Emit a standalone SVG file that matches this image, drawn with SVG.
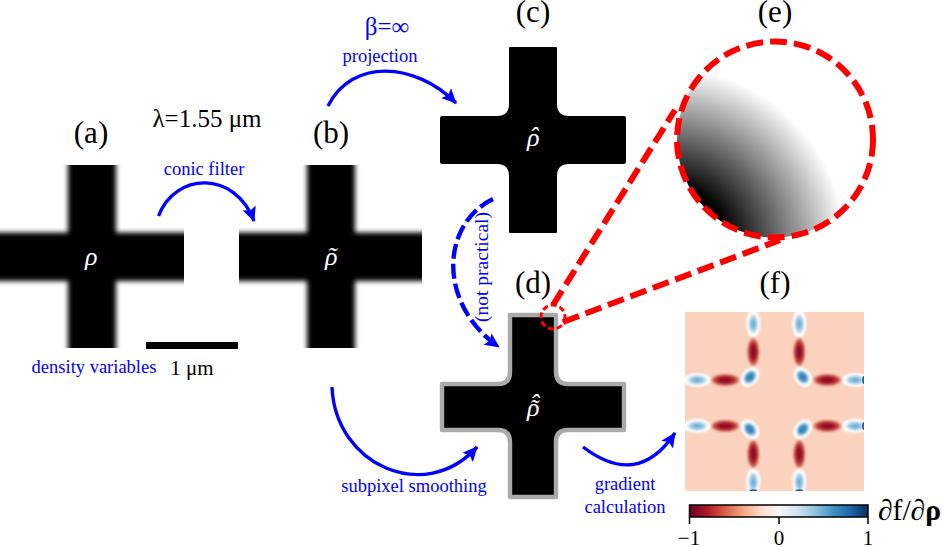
<svg xmlns="http://www.w3.org/2000/svg" xmlns:xlink="http://www.w3.org/1999/xlink" width="942" height="547" viewBox="0 0 942 547">
<style>
text{font-family:"Liberation Serif","DejaVu Serif",serif}
.lab{font-size:31px;fill:#000;text-anchor:middle}
.blu{font-size:18.5px;fill:#0000ff;text-anchor:middle}
.rho{font-size:26px;fill:#fff;font-style:italic}
.tick{font-size:21px;fill:#000;text-anchor:middle}
.arr{fill:none;stroke:#0000ff;stroke-width:3.4;marker-end:url(#ah)}
.dash{stroke-width:4.4;stroke-dasharray:15 5}
.red{fill:none;stroke:#ff0000;stroke-width:6;stroke-dasharray:17 7}
</style>
<defs>
<marker id="ah" markerUnits="userSpaceOnUse" markerWidth="20" markerHeight="16" refX="14" refY="7" orient="auto"><path d="M0,0L15,7L0,14L3,7Z" fill="#0000ff"/></marker>
<filter id="bl" x="-10%" y="-10%" width="120%" height="120%"><feGaussianBlur stdDeviation="2.5"/></filter>
<filter id="bs" x="-60%" y="-60%" width="220%" height="220%"><feGaussianBlur stdDeviation="1.2"/></filter>
<filter id="bt" x="-60%" y="-60%" width="220%" height="220%"><feGaussianBlur stdDeviation="1"/></filter>
<clipPath id="ca"><rect x="0" y="165" width="184" height="183"/></clipPath>
<clipPath id="cb"><rect x="239" y="165" width="183" height="183"/></clipPath>
<clipPath id="ce"><circle cx="775" cy="139.5" r="98"/></clipPath>
<clipPath id="cf"><rect x="685" y="312" width="179" height="179"/></clipPath>
<radialGradient id="ge" gradientUnits="userSpaceOnUse" cx="665" cy="249" r="182"><stop offset="0.35" stop-color="#000"/><stop offset="1" stop-color="#fff"/></radialGradient>
<linearGradient id="cbar"><stop offset="0" stop-color="#67001f"/><stop offset=".1" stop-color="#b2182b"/><stop offset=".2" stop-color="#d6604d"/><stop offset=".3" stop-color="#f4a582"/><stop offset=".4" stop-color="#fddbc7"/><stop offset=".5" stop-color="#f7f7f7"/><stop offset=".6" stop-color="#d1e5f0"/><stop offset=".7" stop-color="#92c5de"/><stop offset=".8" stop-color="#4393c3"/><stop offset=".9" stop-color="#2166ac"/><stop offset="1" stop-color="#053061"/></linearGradient>
<radialGradient id="gr"><stop offset="0" stop-color="#7d0a20"/><stop offset=".45" stop-color="#a5142a"/><stop offset=".8" stop-color="#cf5a4c"/><stop offset="1" stop-color="#fad2bd"/></radialGradient>
<radialGradient id="gb"><stop offset="0" stop-color="#5ba3cf"/><stop offset=".55" stop-color="#92c5de"/><stop offset="1" stop-color="#e6f1f7"/></radialGradient>
<radialGradient id="gc"><stop offset="0" stop-color="#2a74b2"/><stop offset=".6" stop-color="#4393c3"/><stop offset="1" stop-color="#c4e0ee"/></radialGradient>
<g id="halfv">
<ellipse cx="0" cy="-79" rx="7" ry="14" fill="#fff" filter="url(#bs)"/>
<ellipse cx="0" cy="-79" rx="5" ry="10" fill="url(#gb)" filter="url(#bt)"/>
<ellipse cx="0" cy="-51" rx="6.5" ry="15" fill="url(#gr)" filter="url(#bt)"/>
</g>
<g id="corner">
<ellipse cx="0" cy="0" rx="8" ry="11" fill="#fff" filter="url(#bs)"/>
<ellipse cx="0" cy="0" rx="5.5" ry="7.5" fill="url(#gc)" filter="url(#bt)"/>
</g>
</defs>
<rect width="942" height="547" fill="#fff"/>

<g id="node-a">
<g clip-path="url(#ca)"><g filter="url(#bl)"><rect x="68" y="150" width="48" height="215"/><rect x="-20" y="232.5" width="225" height="48.5"/></g></g>
<text class="rho" x="85" y="265">ρ</text>
<text class="lab" x="91" y="143">(a)</text>
<text class="blu" x="94" y="373">density variables</text>
</g>
<g id="node-scale">
<text x="207" y="127" text-anchor="middle" font-size="25">λ=1.55 μm</text>
<rect x="146" y="342" width="92" height="7"/>
<text x="192" y="375" text-anchor="middle" font-size="21">1 μm</text>
</g>
<g id="node-b">
<g clip-path="url(#cb)"><g filter="url(#bl)"><rect x="307" y="150" width="48" height="215"/><rect x="220" y="232.5" width="225" height="48.5"/></g></g>
<text class="rho" x="325" y="265">ρ<tspan dx="-10" dy="0">˜</tspan></text>
<text class="lab" x="331" y="143">(b)</text>
</g>
<g id="node-c">
<path id="cross-c" d="M510,47H556Q557,47 557,48V104Q557,116 569,116H624Q626,116 626,118V162Q626,164 624,164H569Q557,164 557,176V232Q557,233 556,233H510Q509,233 509,232V176Q509,164 497,164H442Q440,164 440,162V118Q440,116 442,116H497Q509,116 509,104V48Q509,47 510,47Z"/>
<text class="rho" x="527" y="146">ρ<tspan dx="-10" dy="-1">ˆ</tspan></text>
<text class="lab" x="533" y="22">(c)</text>
</g>
<g id="node-d">
<path d="M510,315H556V372Q556,384 568,384H624V430H568Q556,430 556,442V497H510V442Q510,430 498,430H442V384H498Q510,384 510,372Z" stroke="#aaaaaa" stroke-width="4.4" stroke-linejoin="round"/>
<text class="rho" x="527" y="416">ρ<tspan dx="-10" dy="1">˜</tspan><tspan dx="-8" dy="-5">ˆ</tspan></text>
<text class="lab" x="533" y="293">(d)</text>
</g>
<g id="node-e">
<rect x="675" y="40" width="200" height="200" fill="url(#ge)" clip-path="url(#ce)"/>
<circle class="red" cx="775" cy="139.5" r="98"/>
<text class="lab" x="775" y="22">(e)</text>
</g>
<g id="node-f">
<g clip-path="url(#cf)">
<rect x="685" y="312" width="179" height="179" fill="#fad2bd"/>
<use xlink:href="#halfv" href="#halfv" transform="translate(753.3,403)"/>
<use xlink:href="#halfv" href="#halfv" transform="translate(799.3,403)"/>
<use xlink:href="#halfv" href="#halfv" transform="translate(753.3,403) scale(1,-1)"/>
<use xlink:href="#halfv" href="#halfv" transform="translate(799.3,403) scale(1,-1)"/>
<use xlink:href="#halfv" href="#halfv" transform="translate(776.3,380) rotate(-90)"/>
<use xlink:href="#halfv" href="#halfv" transform="translate(776.3,426) rotate(-90)"/>
<use xlink:href="#halfv" href="#halfv" transform="translate(776.3,380) rotate(90)"/>
<use xlink:href="#halfv" href="#halfv" transform="translate(776.3,426) rotate(90)"/>
<use xlink:href="#corner" href="#corner" transform="translate(750,377) rotate(40)"/>
<use xlink:href="#corner" href="#corner" transform="translate(802.7,377) rotate(-40)"/>
<use xlink:href="#corner" href="#corner" transform="translate(750,429.3) rotate(-40)"/>
<use xlink:href="#corner" href="#corner" transform="translate(802.7,429.3) rotate(40)"/>
<ellipse cx="753.3" cy="491" rx="4" ry="1.8" fill="#1f5f9c"/>
<ellipse cx="799.3" cy="491" rx="4" ry="1.8" fill="#1f5f9c"/>
<ellipse cx="864" cy="380" rx="1.8" ry="4" fill="#1f5f9c"/>
<ellipse cx="864" cy="426" rx="1.8" ry="4" fill="#1f5f9c"/>
</g>
<text class="lab" x="775" y="293">(f)</text>
</g>
<g id="colorbar">
<rect x="689.5" y="505" width="178.5" height="12" fill="url(#cbar)" stroke="#000" stroke-width="1.5"/>
<path d="M689.5,517V524M779,517V524M868,517V524" stroke="#000" stroke-width="1.5" fill="none"/>
<text class="tick" x="689" y="545">−1</text>
<text class="tick" x="779" y="545">0</text>
<text class="tick" x="868" y="545">1</text>
<text x="878" y="520" font-size="29.5">∂f/∂<tspan font-weight="bold">ρ</tspan></text>
</g>

<g id="connectors">
<path class="arr" d="M158.5,216C175,172 235,170 254,221"/>
<path class="arr" d="M328,106C352,58 415,62 456,103"/>
<path class="arr dash" d="M493,199C440,225 438,305 499,347"/>
<path class="arr" d="M332,387C335,465 425,505 477,447"/>
<path class="arr" d="M583,447C620,475 650,470 675,433"/>
<circle cx="553" cy="317" r="12" fill="none" stroke="#ff0000" stroke-width="3" stroke-dasharray="6 3"/>
<path class="red" d="M553,305L675,110"/>
<path class="red" d="M563,322L780,240"/>
</g>
<g id="connector-labels">
<text class="blu" x="204" y="175">conic filter</text>
<text x="387" y="35" text-anchor="middle" font-size="25" fill="#0000ff">β=∞</text>
<text class="blu" x="380" y="62">projection</text>
<text class="blu" transform="translate(488,267) rotate(-90)" style="font-size:19.5px">(not practical)</text>
<text class="blu" x="414" y="492">subpixel smoothing</text>
<text class="blu" x="625" y="490">gradient</text>
<text class="blu" x="625" y="513">calculation</text>
</g>
</svg>
